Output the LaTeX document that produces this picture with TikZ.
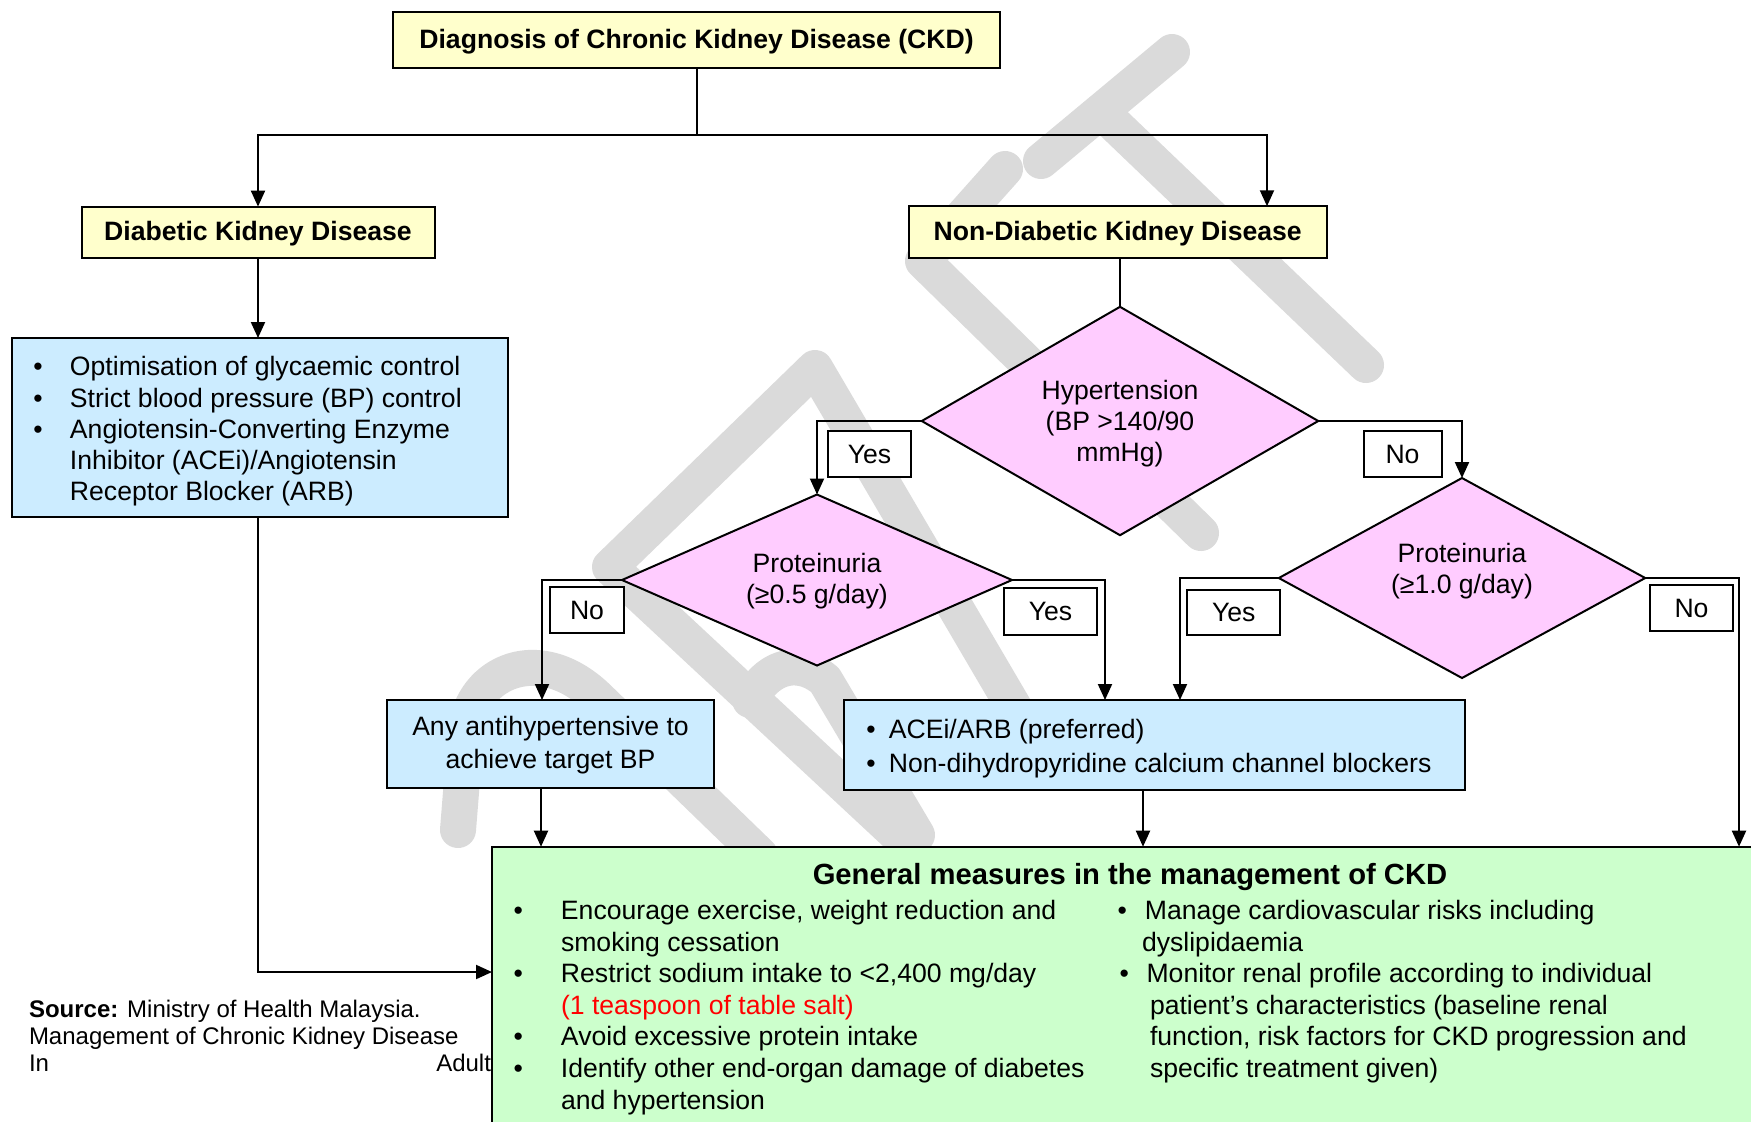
\documentclass[tikz,border=0pt]{standalone}
\usepackage{fontspec}
\setmainfont{Liberation Sans}
\usetikzlibrary{arrows.meta,shapes.geometric,calc}
\definecolor{ylw}{RGB}{255,255,204}
\definecolor{pnk}{RGB}{255,204,255}
\definecolor{blu}{RGB}{204,236,255}
\definecolor{grn}{RGB}{204,255,204}
\definecolor{wmg}{RGB}{218,218,218}
\newcommand\fb{\fontsize{13.3}{15.8}\selectfont}
\newcommand\bitem[1]{\makebox[#1][l]{\textbullet}}
\begin{document}
\begin{tikzpicture}[x=0.5pt,y=-0.5pt,
  every node/.style={inner sep=0pt, outer sep=0pt, font=\fb},
  box/.style={draw, line width=1pt, rectangle},
  ybx/.style={box, fill=ylw, font=\fb\bfseries, text height=9.7pt, text depth=1.2pt},
  bbx/.style={box, fill=blu},
  lbl/.style={box, fill=white},
  dia/.style={draw, line width=1pt, diamond, fill=pnk},
  txt/.style={align=left},
  arr/.style={line width=1pt, -{Triangle[length=8pt,width=7pt]}},
  ln/.style={line width=1pt},
  wm/.style={line width=18pt, draw=wmg, line cap=round, line join=round},
]
\useasboundingbox (0,0) rectangle (1751,1121);
\clip (0,0) rectangle (1751,1121);

% watermark (grey strokes)
\draw[wm] (1041,161) -- (1172,52);
\draw[wm] (1109,119) -- (1366,365);
\draw[wm] (1005,169) -- (923,261) -- (1201,533);
\draw[wm] (1032,738) -- (815,368) -- (610,567) -- (903,840);
\draw[wm] (750,700) .. controls (765,670) and (795,655) .. (825,680) -- (917,835);
\draw[wm] (458,830) -- (466,730) .. controls (472,672) and (540,640) .. (600,700) -- (760,855);

% source
\node[txt, anchor=north west, font=\fontsize{12}{13.5}\selectfont] (src) at (29,998.1)
  {\strut\textbf{Source:} Ministry of Health Malaysia.\\ Management of Chronic Kidney Disease\\ \makebox[231pt]{In\hfill Adult}};

% boxes
\node[ybx, minimum width=303.5pt, minimum height=28pt] (top) at (696.5,40) {Diagnosis of Chronic Kidney Disease (CKD)};
\node[ybx, minimum width=176.5pt, minimum height=25.7pt] (diab) at (258,232.3) {Diabetic Kidney Disease};
\node[ybx, minimum width=208.75pt, minimum height=25.75pt] (nondiab) at (1117.75,232) {Non-Diabetic Kidney Disease};
\node[bbx, minimum width=248pt, minimum height=89.5pt] (blue1) at (260,427.5) {};
\node[dia, minimum width=198.25pt, minimum height=114.2pt] (hyp) at (1120,421) {};
\node[dia, minimum width=195pt, minimum height=85.5pt] (prot1) at (817,580) {};
\node[dia, minimum width=183.2pt, minimum height=100pt] (prot2) at (1462,578) {};
\node[bbx, minimum width=163.5pt, minimum height=43.75pt] (anyhyp) at (550.5,743.75) {};
\node[bbx, minimum width=310.5pt, minimum height=45pt] (ace) at (1154.5,745) {};
\node[box, fill=grn, minimum width=644pt, minimum height=146.65pt] (green) at (1136,993.35) {};

% labels
\node[lbl, minimum width=41.5pt, minimum height=23pt] (yes1) at (869.5,454) {Yes};
\node[lbl, minimum width=39pt, minimum height=23pt] (no1) at (1402.5,454) {No};
\node[lbl, minimum width=37pt, minimum height=23pt] (no2) at (587,610) {No};
\node[lbl, minimum width=46.5pt, minimum height=23.25pt] (yes2) at (1050.5,611.7) {Yes};
\node[lbl, minimum width=46.25pt, minimum height=22.5pt] (yes3) at (1233.7,612.5) {Yes};
\node[lbl, minimum width=41.5pt, minimum height=23pt] (no3) at (1691.5,608) {No};

% texts
\node[txt, anchor=north west, font=\fontsize{13.3}{15.6}\selectfont] (b1t) at (33.3,354.1)
  {\strut\bitem{18.35pt}Optimisation of glycaemic control\\ \bitem{18.35pt}Strict blood pressure (BP) control\\ \bitem{18.35pt}Angiotensin-Converting Enzyme\\ \hspace*{18.35pt}Inhibitor (ACEi)/Angiotensin\\ \hspace*{18.35pt}Receptor Blocker (ARB)};
\node[align=center, anchor=north, font=\fontsize{13.3}{15.5}\selectfont] (ht) at (1120,377.8)
  {\strut Hypertension\\ (BP >140/90\\ mmHg)};
\node[align=center, anchor=north, font=\fontsize{13.3}{15.5}\selectfont] (p1t) at (817,550.8)
  {\strut Proteinuria\\ (≥0.5 g/day)};
\node[align=center, anchor=north, font=\fontsize{13.3}{15.5}\selectfont] (p2t) at (1462,540.5)
  {\strut Proteinuria\\ (≥1.0 g/day)};
\node[align=center, anchor=north, font=\fontsize{13.3}{16.7}\selectfont] (anyt) at (550.5,712.1)
  {\strut Any antihypertensive to\\ achieve target BP};
\node[txt, anchor=north west, font=\fontsize{13.3}{16.8}\selectfont] (acet) at (866.3,715)
  {\strut\bitem{11.3pt}ACEi/ARB (preferred)\\ \bitem{11.3pt}Non-dihydropyridine calcium channel blockers};
\node[anchor=base, font=\fontsize{14.6}{17}\selectfont\bfseries] (gt) at (1130,884.5)
  {General measures in the management of CKD};
\node[txt, anchor=north west] (glt) at (513.5,897.4)
  {\strut\bitem{23.75pt}Encourage exercise, weight reduction and\\ \hspace*{23.75pt}smoking cessation\\ \bitem{23.75pt}Restrict sodium intake to <2,400 mg/day\\ \hspace*{23.75pt}\textcolor{red}{(1 teaspoon of table salt)}\\ \bitem{23.75pt}Avoid excessive protein intake\\ \bitem{23.75pt}Identify other end-organ damage of diabetes\\ \hspace*{23.75pt}and hypertension};
\node[txt, anchor=north west] (grt) at (1117.5,897.4)
  {\strut\bitem{13.75pt}Manage cardiovascular risks including\\ \hspace*{12.25pt}dyslipidaemia\\ \hspace*{1pt}\bitem{13.55pt}Monitor renal profile according to individual\\ \hspace*{16.25pt}patient’s characteristics (baseline renal\\ \hspace*{16.25pt}function, risk factors for CKD progression and\\ \hspace*{16.25pt}specific treatment given)};

% connectors
\coordinate (j1) at (696.5,135);
\coordinate (ndin) at (1267,206.25);
\coordinate (noin) at (542,700);
\coordinate (y2in) at (1105,700);
\coordinate (y3in) at (1180,700);
\coordinate (n3in) at (1739,846.7);
\coordinate (g1) at (541,846.7);
\coordinate (g2) at (1143,846.7);
\coordinate (glin) at (492,972);
\draw[ln] (top.south) -- (j1);
\draw[arr] (j1) -| (diab.north);
\draw[arr] (j1) -| (ndin);
\draw[arr] (diab.south) -- (diab.south |- blue1.north);
\draw[ln] (nondiab.south -| hyp.north) -- (hyp.north);
\draw[arr] (hyp.west) -| (prot1.north);
\draw[arr] (hyp.east) -| (prot2.north);
\draw[arr] (prot1.west) -| (noin);
\draw[arr] (prot1.east) -| (y2in);
\draw[arr] (prot2.west) -| (y3in);
\draw[arr] (prot2.east) -| (n3in);
\draw[arr] (anyhyp.south -| g1) -- (g1);
\draw[arr] (ace.south -| g2) -- (g2);
\draw[arr] (blue1.south -| diab.south) |- (glin);
\end{tikzpicture}
\end{document}
